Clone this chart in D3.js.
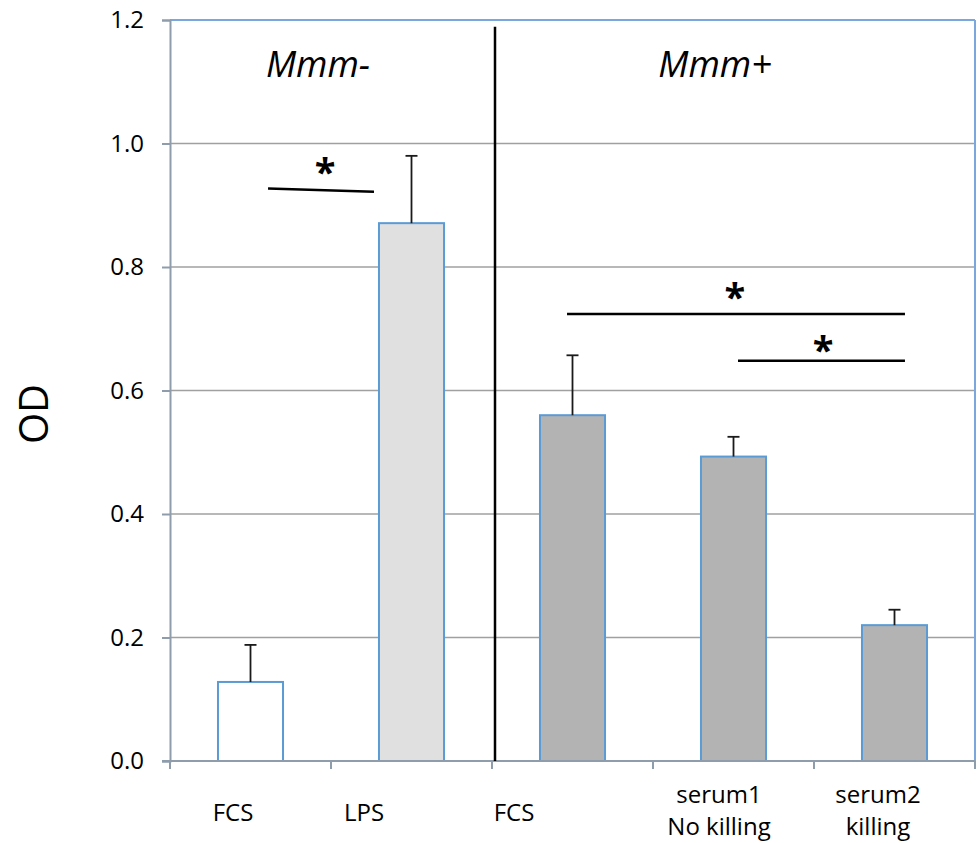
<!DOCTYPE html>
<html>
<head>
<meta charset="utf-8">
<script src="https://cdn.jsdelivr.net/npm/d3@7"></script>
<style>
  html, body { margin: 0; padding: 0; background: #fff; }
  svg { display: block; font-family: "Open Sans", sans-serif; }
</style>
</head>
<body>
<svg id="chart" width="979" height="843"></svg>
<script>
// ---- data ----
const categories = ["FCS", "LPS", "FCS", "serum1\nNo killing", "serum2\nkilling"];
const values     = [0.128, 0.871, 0.560, 0.493, 0.220];
const errors     = [0.060, 0.109, 0.097, 0.032, 0.025];
const groupNames = ["Mmm-", "Mmm+"];
const yTicks     = [0.0, 0.2, 0.4, 0.6, 0.8, 1.0, 1.2];
// significance brackets: [start index pos, end index pos, y value start, y value end]
const sigLines   = [[0.609, 1.267, 0.927, 0.922], [2.466, 4.565, 0.724, 0.724], [3.528, 4.565, 0.648, 0.648]];
const sigStars   = [[0.963, 0.965], [3.509, 0.763], [4.056, 0.677]];

// ---- layout / style ----
const fills = ["#ffffff", "#e0e0e0", "#b3b3b3", "#b3b3b3", "#b3b3b3"];
const labelShift = [-17.5, -47.5, -58.5, -14.5, -16.5];
const groupPos = [0.919, 3.385];
const L = 170, R = 975, T = 20, B = 761;

const svg = d3.select("#chart");
const keys = categories.map((c, i) => i);

const x = d3.scaleBand().domain(keys).range([L, R]).paddingInner(0.596).paddingOuter(0.298);
const xi = d3.scaleLinear().domain([0, categories.length]).range([L, R]);
const y = d3.scaleLinear().domain([0, 1.2]).range([B, T]);

// gridlines
svg.append("g").selectAll("line").data(yTicks.filter(v => v > 0 && v < 1.2)).join("line")
  .attr("x1", L).attr("x2", R).attr("y1", d => y(d)).attr("y2", d => y(d))
  .attr("stroke", "#a0a0a0").attr("stroke-width", 1.5);

// top & right border (blue)
svg.append("line").attr("x1", L).attr("x2", R).attr("y1", y(1.2)).attr("y2", y(1.2))
  .attr("stroke", "#7aa8dc").attr("stroke-width", 2);
svg.append("line").attr("x1", R).attr("x2", R).attr("y1", y(1.2)).attr("y2", y(0))
  .attr("stroke", "#7aa8dc").attr("stroke-width", 2);

// y axis
const yAxis = d3.axisLeft(y).tickValues(yTicks).tickFormat(d3.format(".1f")).tickSize(8).tickPadding(18);
const gy = svg.append("g").attr("transform", `translate(${L},0)`).call(yAxis);
gy.select(".domain").attr("stroke", "#8e9cab").attr("stroke-width", 2);
gy.selectAll(".tick line").attr("stroke", "#8e9cab").attr("stroke-width", 2);
gy.selectAll(".tick text").attr("font-size", 24).attr("fill", "#000")
  .attr("font-family", "'Open Sans', sans-serif");

// y title
svg.append("text").attr("transform", `translate(48,414) rotate(-90)`)
  .attr("text-anchor", "middle").attr("font-size", 40).attr("fill", "#000").text("OD");

// bars
svg.append("g").selectAll("rect").data(keys).join("rect")
  .attr("x", i => x(i)).attr("width", x.bandwidth())
  .attr("y", i => y(values[i])).attr("height", i => y(0) - y(values[i]))
  .attr("fill", i => fills[i]).attr("stroke", "#5b9bd5").attr("stroke-width", 2);

// error bars
const eb = svg.append("g").attr("stroke", "#1a1a1a").attr("stroke-width", 1.8);
keys.forEach(i => {
  const cx = x(i) + x.bandwidth() / 2;
  eb.append("line").attr("x1", cx).attr("x2", cx).attr("y1", y(values[i])).attr("y2", y(values[i] + errors[i]));
  eb.append("line").attr("x1", cx - 6).attr("x2", cx + 6).attr("y1", y(values[i] + errors[i])).attr("y2", y(values[i] + errors[i]));
});

// bottom axis line and ticks at band boundaries
svg.append("line").attr("x1", L - 8).attr("x2", R).attr("y1", y(0)).attr("y2", y(0))
  .attr("stroke", "#8e9cab").attr("stroke-width", 2);
const bounds = d3.range(categories.length + 1).map(i => xi(i));
svg.append("g").selectAll("line").data(bounds).join("line")
  .attr("x1", d => d).attr("x2", d => d).attr("y1", y(0)).attr("y2", y(0) + 8)
  .attr("stroke", "#8e9cab").attr("stroke-width", 2);

// x labels
const xl = svg.append("g").attr("font-size", 24).attr("fill", "#000").attr("text-anchor", "middle");
keys.forEach(i => {
  const lines = categories[i].split("\n");
  const cx = x(i) + x.bandwidth() / 2 + labelShift[i];
  const t = xl.append("text").attr("x", cx);
  if (lines.length === 1) {
    t.attr("y", 821).text(lines[0]);
  } else {
    lines.forEach((ln, k) => t.append("tspan").attr("x", cx).attr("y", 803 + k * 32).text(ln));
  }
});

// divider line
svg.append("line").attr("x1", xi(2) + 3).attr("x2", xi(2) + 3).attr("y1", y(1.189)).attr("y2", y(0))
  .attr("stroke", "#000").attr("stroke-width", 2.5);

// group labels
svg.append("g").selectAll("text").data(groupNames).join("text")
  .attr("x", (d, i) => xi(groupPos[i])).attr("y", 77)
  .attr("text-anchor", "middle").attr("font-size", 36).attr("font-style", "italic").attr("fill", "#000")
  .text(d => d);

// significance
svg.append("g").selectAll("line").data(sigLines).join("line")
  .attr("x1", d => xi(d[0])).attr("x2", d => xi(d[1])).attr("y1", d => y(d[2])).attr("y2", d => y(d[3]))
  .attr("stroke", "#000").attr("stroke-width", 2.5);
svg.append("g").selectAll("text").data(sigStars).join("text")
  .attr("x", d => xi(d[0])).attr("y", d => y(d[1]) + 21)
  .attr("text-anchor", "middle").attr("font-size", 38).attr("font-weight", "bold").attr("fill", "#000")
  .text("*");
</script>
</body>
</html>
